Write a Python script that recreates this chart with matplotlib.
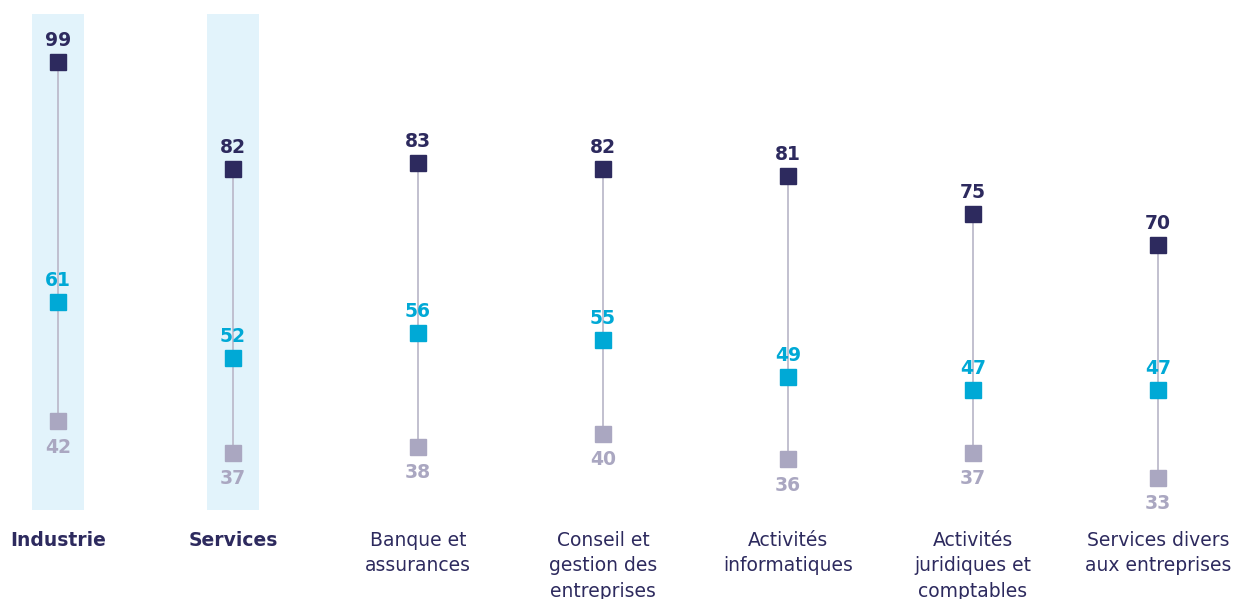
import numpy as np
import matplotlib
matplotlib.use("Agg")
import matplotlib.pyplot as plt

categories = ["Industrie", "Services", "Banque et\nassurances", "Conseil et\ngestion des\nentreprises",
              "Activités\ninformatiques", "Activités\njuridiques et\ncomptables", "Services divers\naux entreprises"]
high = [99, 82, 83, 82, 81, 75, 70]
mid = [61, 52, 56, 55, 49, 47, 47]
low = [42, 37, 38, 40, 36, 37, 33]
highlighted = [True, True, False, False, False, False, False]

NAVY = "#2d2a5e"
CYAN = "#00a9d6"
GREY = "#aaa7c1"
LINE = "#bdbbcc"
BAND = "#e2f3fb"

plt.rcParams['font.family'] = ['DejaVu Sans']

fig = plt.figure(figsize=(12.4, 5.99), dpi=100)
ax = fig.add_axes([0, 0, 1, 1])
ax.set_xlim(-0.2595, 6.443)
ax.set_ylim(13.81, 108.89)
ax.axis('off')

xpos = np.arange(len(categories), dtype=float)
xpos[0] += 0.054

for i, x in enumerate(xpos):
    if highlighted[i]:
        ax.add_patch(plt.Rectangle((x - 0.143, 27.9), 0.286, 78.7, color=BAND, zorder=0, lw=0))
    ax.plot([x, x], [low[i], high[i]], color=LINE, lw=1.3, zorder=1)

ax.plot(xpos, high, 's', color=NAVY, ms=11.5, zorder=3, ls='none')
ax.plot(xpos, mid, 's', color=CYAN, ms=11.5, zorder=3, ls='none')
ax.plot(xpos, low, 's', color=GREY, ms=11.5, zorder=3, ls='none')

for i, x in enumerate(xpos):
    ax.text(x, high[i] + 1.9, str(high[i]), ha='center', va='bottom', color=NAVY, fontsize=13.5, fontweight='bold')
    ax.text(x, mid[i] + 1.9, str(mid[i]), ha='center', va='bottom', color=CYAN, fontsize=13.5, fontweight='bold')
    ax.text(x, low[i] - 2.6, str(low[i]), ha='center', va='top', color=GREY, fontsize=13.5, fontweight='bold')
    ax.text(x, 24.6, categories[i], ha='center', va='top', color=NAVY, fontsize=13.5,
            fontweight='bold' if highlighted[i] else 'normal', linespacing=1.42)

fig.savefig("out.png", dpi=100)
